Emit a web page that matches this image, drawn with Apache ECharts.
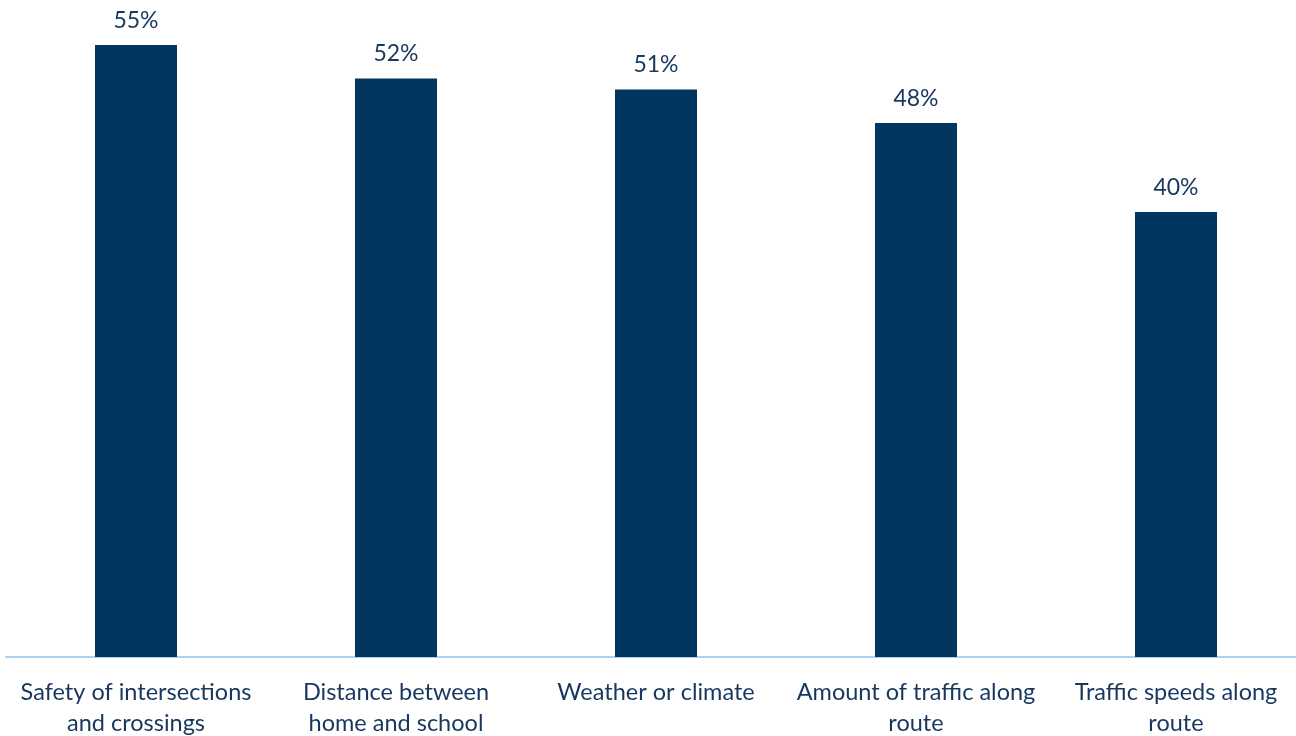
<!DOCTYPE html>
<html>
<head>
<meta charset="utf-8">
<script src="https://cdn.jsdelivr.net/npm/echarts@6/dist/echarts.min.js"></script>
<style>html,body{margin:0;padding:0;background:#fff;}#c{width:1296px;height:736px;}</style>
</head>
<body>
<div id="c"></div>
<script>
const categories = [
  "Safety of intersections\nand crossings",
  "Distance between\nhome and school",
  "Weather or climate",
  "Amount of traffic along\nroute",
  "Traffic speeds along\nroute"
];
const values = [55, 52, 51, 48, 40];

const chart = echarts.init(document.getElementById('c'), null, {renderer: 'canvas'});
chart.setOption({
  animation: false,
  backgroundColor: '#ffffff',
  grid: {left: 6, width: 1300, top: 45, bottom: 79, containLabel: false, outerBoundsMode: 'none'},
  xAxis: {
    type: 'category',
    data: categories,
    axisLine: {lineStyle: {color: '#a9d1f5', width: 2}},
    axisTick: {show: false},
    axisLabel: {
      color: '#17375e',
      fontFamily: 'Lato',
      fontSize: 23.5,
      lineHeight: 31,
      margin: 20,
      interval: 0
    }
  },
  yAxis: {
    type: 'value',
    min: 0,
    max: 55,
    show: false,
    splitLine: {show: false}
  },
  series: [{
    type: 'bar',
    data: values,
    barWidth: 82,
    itemStyle: {color: '#003660'},
    label: {
      show: true,
      position: 'top',
      distance: 13,
      formatter: p => p.value + '%',
      color: '#17375e',
      fontFamily: 'Lato',
      fontSize: 23
    }
  }]
});
</script>
</body>
</html>
